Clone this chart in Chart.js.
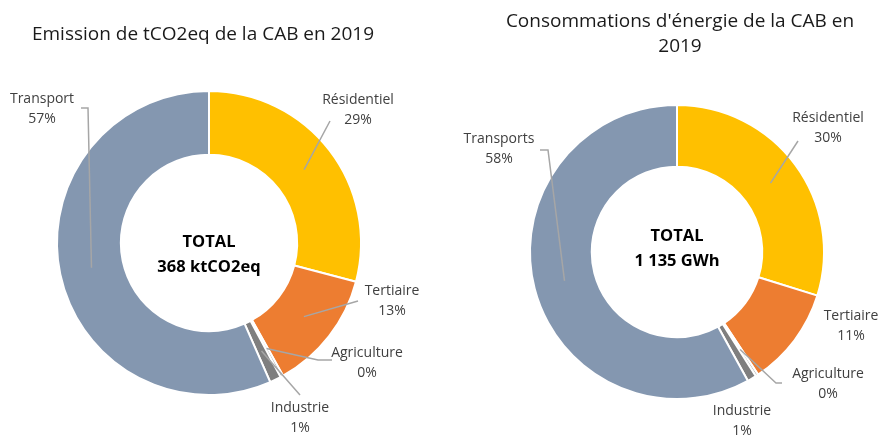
<!DOCTYPE html>
<html><head><meta charset="utf-8">
<script src="https://cdn.jsdelivr.net/npm/chart.js@4.4.1/dist/chart.umd.min.js"></script>
<style>
html,body{margin:0;padding:0;background:#fff;width:881px;height:436px;overflow:hidden;}
canvas{position:absolute;top:0;}
#c1{left:0;} #c2{left:440px;}
</style></head><body>
<canvas id="c1" width="440" height="436"></canvas>
<canvas id="c2" width="441" height="436"></canvas>
<script>
// ---- data ----
const catsEmission = ['Résidentiel','Tertiaire','Agriculture','Industrie','Transport'];
const valsEmission = [29.1, 12.8, 0.3, 1.2, 56.6];
const totalEmission = ['TOTAL', '368 ktCO2eq'];
const titleEmission = ['Emission de tCO2eq de la CAB en 2019'];

const catsEnergy = ['Résidentiel','Tertiaire','Agriculture','Industrie','Transports'];
const valsEnergy = [29.8, 10.9, 0.3, 1.0, 58.0];
const totalEnergy = ['TOTAL', '1 135 GWh'];
const titleEnergy = ["Consommations d'énergie de la CAB en", '2019'];

const sliceColors = ['#FFC000','#ED7D31','#A5A5A5','#7F7F7F','#8497B0'];
const FONT = "'Open Sans', 'Noto Sans', sans-serif";

const decorPlugin = {
  id: 'decor',
  afterDatasetsDraw(chart, args, opts) {
    const ctx = chart.ctx;
    const meta = chart.getDatasetMeta(0);
    const data = chart.data.datasets[0].data;
    const total = data.reduce((a,b)=>a+b,0);
    ctx.save();
    // callouts
    opts.callouts.forEach((c, i) => {
      if (!c) return;
      const arc = meta.data[i];
      const p = arc.getProps(['x','y','startAngle','endAngle','innerRadius','outerRadius'], true);
      const mid = (p.startAngle + p.endAngle) / 2;
      const r = (p.innerRadius + p.outerRadius) / 2;
      const ax = p.x + Math.cos(mid) * r, ay = p.y + Math.sin(mid) * r;
      if (c.line) {
        ctx.strokeStyle = '#A6A6A6';
        ctx.lineWidth = 1.5;
        ctx.beginPath();
        ctx.moveTo(c.line[0][0], c.line[0][1]);
        for (let k = 1; k < c.line.length; k++) ctx.lineTo(c.line[k][0], c.line[k][1]);
        ctx.lineTo(ax, ay);
        ctx.stroke();
      }
      ctx.fillStyle = '#404040';
      ctx.font = '14px ' + FONT;
      ctx.textAlign = 'center';
      ctx.textBaseline = 'middle';
      ctx.fillText(chart.data.labels[i], c.x, c.y);
      ctx.fillText(Math.round(data[i] / total * 100) + '%', c.x, c.y + 20);
    });
    // center text
    ctx.fillStyle = '#000';
    ctx.font = 'bold 16.5px ' + FONT;
    ctx.textAlign = 'center';
    ctx.textBaseline = 'middle';
    opts.center.lines.forEach((t, k) => ctx.fillText(t, opts.center.x, opts.center.y + k * 25));
    // title
    ctx.fillStyle = '#1a1a1a';
    ctx.font = '19px ' + FONT;
    opts.title.lines.forEach((t, k) => ctx.fillText(t, opts.title.x, opts.title.y + k * 25));
    ctx.restore();
  }
};

function makeChart(id, cats, vals, padding, decor) {
  return new Chart(document.getElementById(id), {
    type: 'doughnut',
    data: { labels: cats, datasets: [{ data: vals, backgroundColor: sliceColors, borderColor: '#fff', borderWidth: 2 }] },
    options: {
      responsive: false, animation: false, cutout: '58%',
      layout: { padding: padding },
      plugins: { legend: { display: false }, tooltip: { enabled: false }, decor: decor }
    },
    plugins: [decorPlugin]
  });
}

makeChart('c1', catsEmission, valsEmission, { left: 56, right: 78, top: 90, bottom: 40 }, {
  title: { lines: titleEmission, x: 203, y: 35 },
  center: { lines: totalEmission, x: 209, y: 242 },
  callouts: [
    { x: 358, y: 100, line: [[330, 121]] },
    { x: 392, y: 291, line: [[358, 301]] },
    { x: 367, y: 353, line: [[332, 360], [318, 360]] },
    { x: 300, y: 408, line: [[300, 395]] },
    { x: 42, y: 99, line: [[81, 108], [88, 108]] }
  ]
});

makeChart('c2', catsEnergy, valsEnergy, { left: 89, right: 56, top: 104, bottom: 36 }, {
  title: { lines: titleEnergy, x: 240, y: 22 },
  center: { lines: totalEnergy, x: 237, y: 236 },
  callouts: [
    { x: 388, y: 118, line: [[358, 141]] },
    { x: 411, y: 316 },
    { x: 388, y: 374, line: [[342, 383], [336, 383]] },
    { x: 302, y: 411 },
    { x: 59, y: 139, line: [[100, 150], [108, 150]] }
  ]
});
</script>
</body></html>
